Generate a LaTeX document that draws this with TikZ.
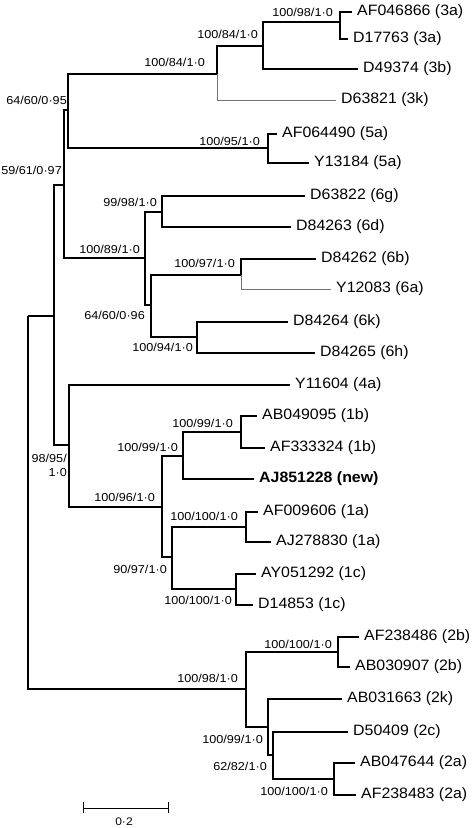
\documentclass[tikz,border=0pt]{standalone}
\usepackage{fontspec}
\setmainfont{Liberation Sans}
\newfontfamily\leaffont[FakeStretch=1.06]{Liberation Sans}
\newfontfamily\supfont[FakeStretch=1.1]{Liberation Sans}
\begin{document}
\begin{tikzpicture}[x=1pt,y=-1pt,
  br/.style={line width=1.3pt,black},
  brbold/.style={line width=2pt,black},
  brthin/.style={line width=0.8pt,black!55},
  leaf/.style={anchor=west,inner xsep=5pt,inner ysep=0pt,font=\leaffont\fontsize{15}{17}\selectfont},
  sup/.style={anchor=east,inner sep=0pt,font=\supfont\fontsize{11.5}{14}\selectfont},
]
\useasboundingbox (0,0) rectangle (474,828);
% internal nodes
\coordinate (R0) at (28,316);
\coordinate (L) at (54,316);
\coordinate (E) at (64,185);
\coordinate (D) at (68,110);
\coordinate (C) at (217,74);
\coordinate (B) at (263,46);
\coordinate (A) at (340,22);
\coordinate (F) at (268,148);
\coordinate (G) at (145,258);
\coordinate (H) at (162,212);
\coordinate (I) at (151,305);
\coordinate (J) at (241,275);
\coordinate (K) at (197,337);
\coordinate (M) at (69,445);
\coordinate (N) at (162,507);
\coordinate (O) at (183,456);
\coordinate (P) at (241,432);
\coordinate (Q) at (172,557);
\coordinate (Rn) at (246,527);
\coordinate (S) at (236,589);
\coordinate (T) at (246,689);
\coordinate (U) at (338,652);
\coordinate (V) at (268,727);
\coordinate (W) at (273,755);
\coordinate (X) at (334,779);
% leaves
\node[leaf] (l1) at (352,12) {AF046866 (3a)};
\node[leaf] (l2) at (348,39) {D17763 (3a)};
\node[leaf] (l3) at (358,69) {D49374 (3b)};
\node[leaf] (l4) at (336,100) {D63821 (3k)};
\node[leaf] (l5) at (277,134) {AF064490 (5a)};
\node[leaf] (l6) at (309,163) {Y13184 (5a)};
\node[leaf] (l7) at (305,196) {D63822 (6g)};
\node[leaf] (l8) at (291,227) {D84263 (6d)};
\node[leaf] (l9) at (316,259) {D84262 (6b)};
\node[leaf] (l10) at (331,289) {Y12083 (6a)};
\node[leaf] (l11) at (288,322) {D84264 (6k)};
\node[leaf] (l12) at (315,353) {D84265 (6h)};
\node[leaf] (l13) at (290,385) {Y11604 (4a)};
\node[leaf] (l14) at (257,416) {AB049095 (1b)};
\node[leaf] (l15) at (265,448) {AF333324 (1b)};
\node[leaf,font=\leaffont\bfseries\fontsize{15}{17}\selectfont] (l16) at (254,479) {AJ851228 (new)};
\node[leaf] (l17) at (258,512) {AF009606 (1a)};
\node[leaf] (l18) at (271,542) {AJ278830 (1a)};
\node[leaf] (l19) at (256,574) {AY051292 (1c)};
\node[leaf] (l20) at (253,605) {D14853 (1c)};
\node[leaf] (l21) at (359,637) {AF238486 (2b)};
\node[leaf] (l22) at (350,667) {AB030907 (2b)};
\node[leaf] (l23) at (342,699) {AB031663 (2k)};
\node[leaf] (l24) at (348,732) {D50409 (2c)};
\node[leaf] (l25) at (355,763) {AB047644 (2a)};
\node[leaf] (l26) at (356,795) {AF238483 (2a)};
% branches
\draw[br] (R0) |- (L);
\draw[br] (R0) |- (T);
\draw[br] (L) |- (E);
\draw[br] (L) |- (M);
\draw[br] (E) |- (D);
\draw[br] (E) |- (G);
\draw[br] (D) |- (C);
\draw[br] (D) |- (F);
\draw[br] (C) |- (B);
\draw[brthin] (C) |- (l4.west);
\draw[br] (B) |- (A);
\draw[brbold] (B) |- (l3.west);
\draw[br] (A) |- (l1.west);
\draw[brbold] (A) |- (l2.west);
\draw[br] (F) |- (l5.west);
\draw[br] (F) |- (l6.west);
\draw[br] (G) |- (H);
\draw[br] (G) |- (I);
\draw[br] (H) |- (l7.west);
\draw[br] (H) |- (l8.west);
\draw[br] (I) |- (J);
\draw[br] (I) |- (K);
\draw[brbold] (J) |- (l9.west);
\draw[brthin] (J) |- (l10.west);
\draw[br] (K) |- (l11.west);
\draw[br] (K) |- (l12.west);
\draw[br] (M) |- (l13.west);
\draw[br] (M) |- (N);
\draw[br] (N) |- (O);
\draw[br] (N) |- (Q);
\draw[brbold] (O) |- (P);
\draw[br] (O) |- (l16.west);
\draw[br] (P) |- (l14.west);
\draw[brbold] (P) |- (l15.west);
\draw[brbold] (Q) |- (Rn);
\draw[br] (Q) |- (S);
\draw[br] (Rn) |- (l17.west);
\draw[brbold] (Rn) |- (l18.west);
\draw[br] (S) |- (l19.west);
\draw[br] (S) |- (l20.west);
\draw[br] (T) |- (U);
\draw[br] (T) |- (V);
\draw[brbold] (U) |- (l21.west);
\draw[br] (U) |- (l22.west);
\draw[br] (V) |- (l23.west);
\draw[br] (V) |- (W);
\draw[brbold] (W) |- (l24.west);
\draw[br] (W) |- (X);
\draw[br] (X) |- (l25.west);
\draw[br] (X) |- (l26.west);
% support values
\node[sup] (s1) at (333,12) {100/98/1·0};
\node[sup] (s2) at (258,34) {100/84/1·0};
\node[sup] (s3) at (205,62) {100/84/1·0};
\node[sup] (s4) at (67,100) {64/60/0·95};
\node[sup] (s5) at (62,170) {59/61/0·97};
\node[sup] (s6) at (260,141) {100/95/1·0};
\node[sup] (s7) at (157,202) {99/98/1·0};
\node[sup] (s8) at (140,249) {100/89/1·0};
\node[sup] (s9) at (235,263) {100/97/1·0};
\node[sup] (s10) at (145,315) {64/60/0·96};
\node[sup] (s11) at (193,347) {100/94/1·0};
\node[sup,align=right] (s12) at (67,465) {98/95/\\1·0};
\node[sup] (s13) at (233,423) {100/99/1·0};
\node[sup] (s14) at (178,447) {100/99/1·0};
\node[sup] (s15) at (155,497) {100/96/1·0};
\node[sup] (s16) at (238,516) {100/100/1·0};
\node[sup] (s17) at (167,569) {90/97/1·0};
\node[sup] (s18) at (232,600) {100/100/1·0};
\node[sup] (s19) at (332,644) {100/100/1·0};
\node[sup] (s20) at (238,678) {100/98/1·0};
\node[sup] (s21) at (263,739) {100/99/1·0};
\node[sup] (s22) at (267,766) {62/82/1·0};
\node[sup] (s23) at (328,791) {100/100/1·0};
% scale bar
\coordinate (sb1) at (83,808);
\coordinate (sb2) at (168,808);
\draw[line width=1pt] (sb1) -- (sb2);
\draw[line width=1pt] ([yshift=-5]sb1) -- ([yshift=6]sb1);
\draw[line width=1pt] ([yshift=-5]sb2) -- ([yshift=6]sb2);
\node[inner sep=0pt,font=\supfont\fontsize{11}{13}\selectfont] (sbl) at (124,822) {0·2};
\end{tikzpicture}
\end{document}
